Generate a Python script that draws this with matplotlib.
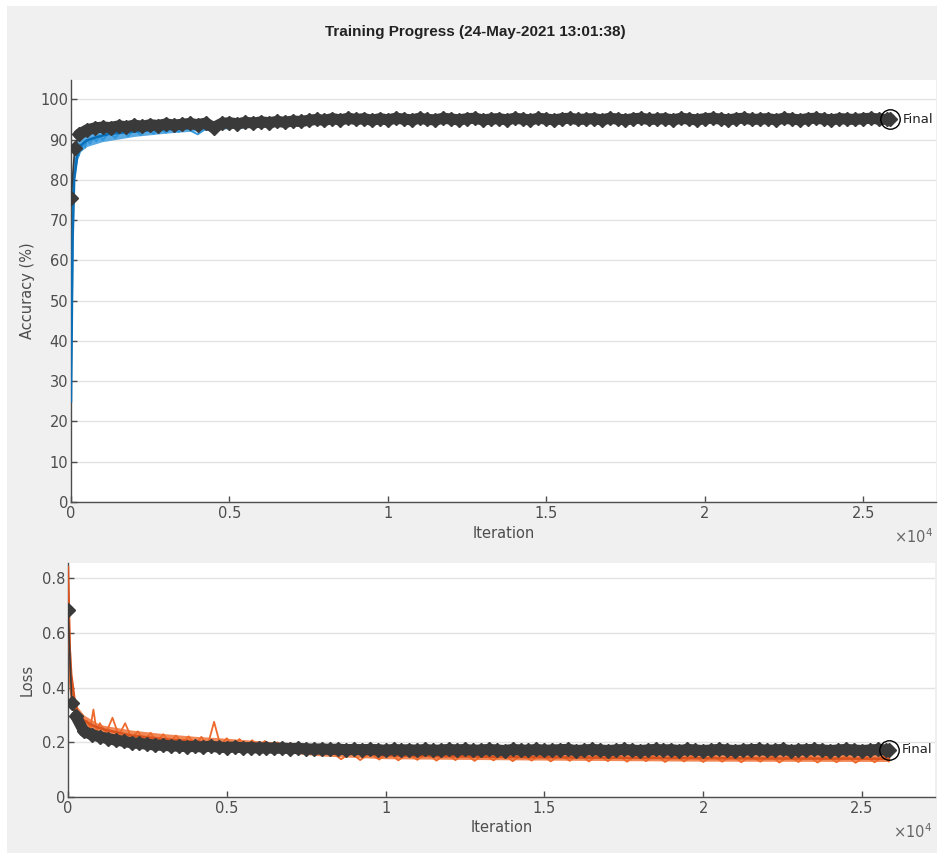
import matplotlib
matplotlib.use("Agg")
import matplotlib.pyplot as plt
from matplotlib.patches import Rectangle

# validation points (black diamonds)
val_iter = [0, 120] + list(range(250, 25751, 250)) + [25850]
val_acc = [
    75.5, 88.0, 91.3, 92.4, 92.9, 93.1, 93.0, 93.4, 93.2, 93.6,
    93.3, 93.7, 93.5, 93.9, 93.6, 93.8, 94.0, 93.7, 94.1, 93.0,
    94.0, 94.2, 93.9, 94.3, 94.1, 94.4, 94.2, 94.5, 94.3, 94.6,
    94.5, 94.8, 95.0, 94.8, 95.2, 94.9, 95.3, 95.0, 95.2, 94.8,
    95.2, 94.9, 95.3, 95.1, 94.9, 95.3, 95.0, 94.9, 95.3, 95.1,
    94.9, 95.2, 95.3, 94.9, 95.1, 95.2, 94.9, 95.3, 95.1, 94.9,
    95.3, 95.1, 94.9, 95.2, 95.3, 95.0, 95.1, 95.2, 94.9, 95.3,
    95.1, 94.9, 95.2, 95.3, 95.0, 95.1, 95.2, 94.9, 95.3, 95.1,
    94.9, 95.2, 95.3, 95.1, 94.9, 95.2, 95.3, 95.0, 95.1, 95.2,
    94.9, 95.3, 95.1, 94.9, 95.2, 95.3, 95.1, 94.9, 95.2, 95.1,
    95.0, 95.2, 95.3, 95.1, 95.0, 95.1,
]
val_loss = [
    0.685, 0.345, 0.295, 0.240, 0.228, 0.220, 0.214, 0.208, 0.204, 0.198,
    0.196, 0.193, 0.190, 0.189, 0.187, 0.186, 0.184, 0.185, 0.183, 0.186,
    0.182, 0.181, 0.183, 0.180, 0.181, 0.179, 0.180, 0.178, 0.179, 0.177,
    0.178, 0.176, 0.175, 0.176, 0.174, 0.175, 0.173, 0.174, 0.173, 0.174,
    0.173, 0.171, 0.174, 0.172, 0.173, 0.171, 0.174, 0.171, 0.172, 0.174,
    0.172, 0.174, 0.171, 0.172, 0.174, 0.172, 0.170, 0.174, 0.172, 0.171,
    0.174, 0.171, 0.172, 0.173, 0.174, 0.170, 0.172, 0.174, 0.172, 0.170,
    0.172, 0.174, 0.172, 0.170, 0.172, 0.174, 0.172, 0.173, 0.170, 0.174,
    0.172, 0.170, 0.172, 0.174, 0.172, 0.170, 0.172, 0.173, 0.174, 0.171,
    0.172, 0.174, 0.170, 0.172, 0.173, 0.174, 0.172, 0.170, 0.172, 0.174,
    0.172, 0.170, 0.172, 0.174, 0.172, 0.172,
]

# raw training curves (light blue / orange)
train_iter = ([0, 10, 20, 30, 40, 60, 80, 100, 130, 160, 200, 250, 300, 350,
               400, 450, 500, 600, 700, 800, 900, 1000]
              + list(range(1200, 8001, 200))
              + list(range(8300, 25701, 300)) + [25850])
train_acc = [
    25.0, 48.0, 62.0, 70.0, 74.0, 78.0, 81.5, 83.0, 85.5, 84.0,
    87.0, 86.0, 88.5, 87.5, 89.5, 88.0, 90.0, 89.0, 90.5, 89.5,
    91.0, 89.8,
    91.8, 90.4, 92.4, 90.8, 92.6, 91.1, 93.0, 91.4, 92.8, 91.7,
    93.1, 91.9, 93.3, 92.1, 91.3, 92.4, 93.4, 92.4, 93.6, 92.7,
    93.8, 92.9, 93.9, 93.0, 94.1, 93.2, 94.2, 93.4, 94.4, 93.6,
    94.5, 93.8, 94.7, 94.2, 94.9,
    95.3, 94.6, 95.5, 94.8, 95.4, 94.7, 95.6, 94.9, 95.3, 94.8,
    95.5, 94.7, 95.4, 95.0, 95.6, 94.8, 95.3, 94.9, 95.5, 94.7,
    95.4, 95.0, 95.6, 94.8, 95.3, 94.9, 95.5, 94.8, 95.4, 95.0,
    95.6, 94.9, 95.3, 94.8, 95.5, 95.0, 95.4, 94.9, 95.6, 94.8,
    95.3, 95.0, 95.5, 94.9, 95.4, 94.8, 95.6, 95.0, 95.3, 94.9,
    95.5, 94.8, 95.4, 95.0, 95.6, 94.9, 95.3, 95.0, 95.5,
    95.1,
]
train_loss = [
    0.84, 0.62, 0.55, 0.50, 0.46, 0.42, 0.39, 0.37, 0.34, 0.36,
    0.31, 0.33, 0.29, 0.31, 0.27, 0.30, 0.26, 0.28, 0.25, 0.32,
    0.24, 0.27,
    0.235, 0.29, 0.225, 0.27, 0.215, 0.24, 0.205, 0.235, 0.20, 0.23,
    0.198, 0.225, 0.195, 0.222, 0.192, 0.22, 0.19, 0.275, 0.188, 0.215,
    0.185, 0.212, 0.182, 0.208, 0.18, 0.205, 0.176, 0.20, 0.172, 0.198,
    0.168, 0.192, 0.162, 0.185, 0.155,
    0.165, 0.138, 0.162, 0.135, 0.16, 0.137, 0.163, 0.134, 0.158, 0.136,
    0.161, 0.133, 0.157, 0.135, 0.16, 0.132, 0.156, 0.134, 0.159, 0.131,
    0.155, 0.133, 0.158, 0.13, 0.155, 0.132, 0.157, 0.13, 0.154, 0.131,
    0.156, 0.129, 0.153, 0.131, 0.155, 0.128, 0.152, 0.13, 0.154, 0.128,
    0.152, 0.129, 0.153, 0.127, 0.151, 0.129, 0.153, 0.126, 0.15, 0.128,
    0.152, 0.126, 0.15, 0.127, 0.151, 0.125, 0.149, 0.127, 0.15,
    0.13,
]

# spread of the noisy training curves (lower / upper edge of the band)
band_iter = [0, 100, 200, 300, 500, 1000, 2000, 3000, 4000, 5000, 6000,
             7000, 8000, 10000, 15000, 20000, 25850]
acc_band_lo = [25, 80, 85, 87, 88.3, 89.5, 90.8, 91.6, 92.2, 92.7, 93.2,
               93.6, 94.2, 94.6, 94.7, 94.7, 94.7]
acc_band_hi = [75, 88, 90.5, 91.8, 92.5, 93.2, 93.8, 94.1, 94.4, 94.7, 95.0,
               95.3, 95.5, 95.7, 95.7, 95.7, 95.7]
loss_band_lo = [0.60, 0.36, 0.30, 0.26, 0.235, 0.21, 0.195, 0.187, 0.181,
                0.175, 0.168, 0.16, 0.15, 0.14, 0.135, 0.131, 0.13]
loss_band_hi = [0.85, 0.45, 0.37, 0.33, 0.30, 0.265, 0.245, 0.232, 0.222,
                0.215, 0.206, 0.198, 0.188, 0.178, 0.172, 0.168, 0.166]

# smoothed training curves
smooth_iter = [0, 50, 100, 200, 300, 500, 800, 1200, 2000, 3000, 4000, 5000,
               6000, 7000, 8000, 10000, 14000, 18000, 22000, 25850]
smooth_acc = [25, 65, 80, 86, 88.5, 89.8, 90.6, 91.4, 92.0, 92.6, 92.9, 93.3,
              93.7, 94.1, 94.6, 95.0, 95.1, 95.1, 95.2, 95.1]
smooth_loss = [0.84, 0.55, 0.45, 0.36, 0.31, 0.28, 0.26, 0.245, 0.225, 0.212,
               0.203, 0.196, 0.188, 0.18, 0.168, 0.152, 0.146, 0.143, 0.141, 0.140]

x_ticks = [0, 5000, 10000, 15000, 20000, 25000]
x_tick_labels = ["0", "0.5", "1", "1.5", "2", "2.5"]
acc_ticks = list(range(0, 101, 10))
loss_ticks = [0, 0.2, 0.4, 0.6, 0.8]

AXIS_GRAY = "#4d4d4d"
VAL_COLOR = "#3a3a3a"


def style_axes(ax, ylim, yticks, yticklabels):
    ax.set_facecolor("white")
    ax.set_xlim(0, 27300)
    ax.set_ylim(*ylim)
    ax.set_xticks(x_ticks)
    ax.set_xticklabels(x_tick_labels)
    ax.set_yticks(yticks)
    ax.set_yticklabels(yticklabels)
    for side in ["top", "right"]:
        ax.spines[side].set_visible(False)
    for side in ["left", "bottom"]:
        ax.spines[side].set_color(AXIS_GRAY)
        ax.spines[side].set_linewidth(1.0)
    ax.tick_params(direction="in", length=4, width=1, colors=AXIS_GRAY,
                   labelsize=10.5, pad=3)
    ax.tick_params(axis="y", pad=2)
    ax.grid(axis="y", color="#e3e3e3", linewidth=1)
    ax.set_axisbelow(True)
    ax.set_xlabel("Iteration", fontsize=10.5, color=AXIS_GRAY)
    ax.annotate(r"$\times\mathregular{10^4}$", xy=(1.0, 0), xycoords="axes fraction",
                xytext=(-2, -18), textcoords="offset points", ha="right", va="top",
                fontsize=10.5, color="#666666")


def draw_panel(ax, raw, band_lo, band_hi, smooth, val, raw_color, smooth_color):
    ax.fill_between(band_iter, band_lo, band_hi, color=raw_color, alpha=0.8,
                    linewidth=0, zorder=1)
    ax.plot(train_iter, raw, color=raw_color, linewidth=1.3, zorder=2)
    ax.plot(smooth_iter, smooth, color=smooth_color, linewidth=1.8, zorder=3)
    # thin line for the first few validation points, then a thick dark line
    # under the dense diamonds gives the solid band
    ax.plot(val_iter[:3], val[:3], color=VAL_COLOR, linewidth=1.2, zorder=4)
    ax.plot(val_iter[2:], val[2:], color=VAL_COLOR, linewidth=8,
            solid_capstyle="round", zorder=4)
    ax.plot(val_iter, val, linestyle="none", marker="D", markersize=7.5,
            markerfacecolor=VAL_COLOR, markeredgecolor=VAL_COLOR, zorder=4)
    # final validation point
    ax.plot([val_iter[-1]], [val[-1]], marker="o", markersize=14,
            markerfacecolor="none", markeredgecolor="black",
            markeredgewidth=1.0, zorder=5, clip_on=False)
    ax.annotate("Final", xy=(val_iter[-1], val[-1]), xytext=(9, 0),
                textcoords="offset points", ha="left", va="center",
                fontsize=9.5, color="#222222", annotation_clip=False)


def main():
    fig = plt.figure(figsize=(9.44, 8.59), dpi=100)
    fig.patch.set_facecolor("white")
    fig.patches.append(Rectangle((7 / 944, 1 - 853 / 859), 930 / 944, 847 / 859,
                                 transform=fig.transFigure, facecolor="#f0f0f0",
                                 edgecolor="none", zorder=-10))

    fig.text(0.503, 1 - 32 / 859, "Training Progress (24-May-2021 13:01:38)",
             ha="center", va="center", fontsize=11, fontweight="bold",
             family="Liberation Sans", color="#222222")

    ax1 = fig.add_axes([71 / 944, 1 - 502 / 859, 865 / 944, 422 / 859])
    style_axes(ax1, (0, 104.8), acc_ticks, [str(t) for t in acc_ticks])
    draw_panel(ax1, train_acc, acc_band_lo, acc_band_hi, smooth_acc, val_acc,
               "#2f95dc", "#0b6fb8")
    ax1.set_ylabel("Accuracy (%)", fontsize=10.5, color=AXIS_GRAY)
    ax1.yaxis.set_label_coords(-0.042, 0.5)
    ax1.xaxis.set_label_coords(0.5, -0.056)

    ax2 = fig.add_axes([68 / 944, 1 - 797 / 859, 867 / 944, 234 / 859])
    style_axes(ax2, (0, 0.856), loss_ticks, ["0", "0.2", "0.4", "0.6", "0.8"])
    draw_panel(ax2, train_loss, loss_band_lo, loss_band_hi, smooth_loss, val_loss,
               "#ee6a2c", "#d9531e")
    ax2.set_ylabel("Loss", fontsize=10.5, color=AXIS_GRAY)
    ax2.yaxis.set_label_coords(-0.038, 0.5)
    ax2.xaxis.set_label_coords(0.5, -0.1)

    fig.savefig("out.png", dpi=100)


if __name__ == "__main__":
    main()
